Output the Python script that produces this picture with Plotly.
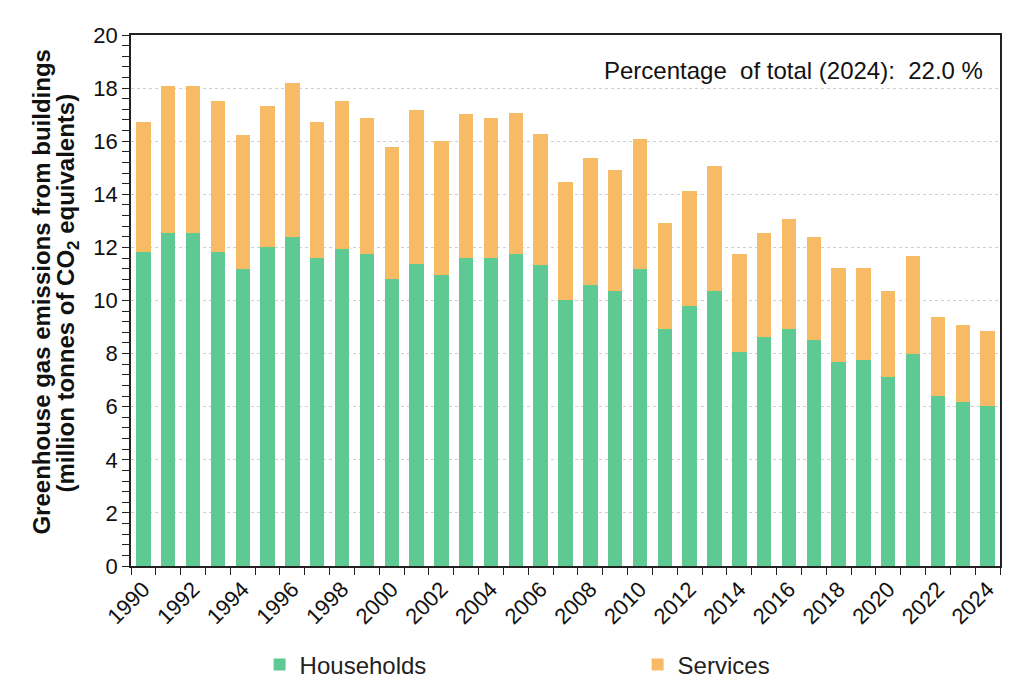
import plotly.graph_objects as go

years = list(range(1990, 2025))
households = [11.82, 12.53, 12.53, 11.82, 11.17, 12.01, 12.40, 11.61, 11.95, 11.76,
              10.82, 11.38, 10.96, 11.61, 11.61, 11.76, 11.32, 10.01, 10.58, 10.36,
              11.17, 8.91, 9.81, 10.35, 8.06, 8.64, 8.91, 8.50, 7.70, 7.77,
              7.12, 7.99, 6.39, 6.18, 6.04]
totals = [16.73, 18.09, 18.09, 17.52, 16.23, 17.31, 18.18, 16.73, 17.52, 16.87,
          15.80, 17.17, 15.99, 17.01, 16.88, 17.08, 16.29, 14.48, 15.36, 14.91,
          16.08, 12.91, 14.11, 15.07, 11.74, 12.55, 13.06, 12.40, 11.23, 11.23,
          10.36, 11.67, 9.36, 9.07, 8.86]
services = [round(t - h, 2) for t, h in zip(totals, households)]
tick_years = list(range(1990, 2025, 2))
tick_labels = [str(y) for y in tick_years]
title_line1 = "Greenhouse gas emissions from buildings"
title_line2 = "(million tonnes of CO<sub>2</sub> equivalents)"

FONT = "Liberation Sans, Arial, sans-serif"
GREEN = "#5fc994"
ORANGE = "#f8bb65"

fig = go.Figure()
fig.add_trace(go.Bar(x=years, y=households, name="Households",
                     marker=dict(color=GREEN, line=dict(width=0)), width=0.58))
fig.add_trace(go.Bar(x=years, y=services, name="Services",
                     marker=dict(color=ORANGE, line=dict(width=0)), width=0.58))

fig.update_layout(
    barmode="stack",
    width=1024, height=695,
    margin=dict(l=123, r=32, t=27, b=137, autoexpand=False),
    plot_bgcolor="white", paper_bgcolor="white",
    font=dict(family=FONT, size=22, color="#111111"),
    showlegend=True,
    legend=dict(orientation="h", traceorder="normal", x=0.148, xanchor="left",
                y=-0.144, yanchor="top",
                entrywidth=333, entrywidthmode="pixels",
                font=dict(size=24, color="#222222"), itemwidth=30),
    xaxis=dict(range=[1989.5, 2024.5], tickmode="array", tickvals=tick_years,
               ticktext=tick_labels, tickangle=-45, ticks="", showgrid=False,
               showline=True, linecolor="#222222", linewidth=1.5, mirror=True,
               tickfont=dict(size=22, color="#111111"),
               minor=dict(tickmode="linear", tick0=1989.5, dtick=1, ticks="outside",
                          ticklen=7, tickcolor="#222222", showgrid=False)),
    yaxis=dict(range=[0, 20], dtick=2, ticks="outside", ticklen=7, tickcolor="#222222",
               showline=True, linecolor="#222222", linewidth=1.5, mirror=True,
               showgrid=True, gridcolor="#cfcfcf", griddash="dot", gridwidth=1,
               zeroline=False,
               tickfont=dict(size=22, color="#111111"),
               minor=dict(dtick=0.4, ticks="outside", ticklen=7, tickcolor="#222222",
                          showgrid=False)),
)

fig.add_annotation(text=f"<b>{title_line1}</b>", xref="paper", yref="paper",
                   x=-0.1024, y=0.515, xanchor="center", yanchor="middle",
                   textangle=-90, showarrow=False,
                   font=dict(size=24, color="#111111"))
fig.add_annotation(text=f"<b>{title_line2}</b>", xref="paper", yref="paper",
                   x=-0.0725, y=0.515, xanchor="center", yanchor="middle",
                   textangle=-90, showarrow=False,
                   font=dict(size=24, color="#111111"))

fig.add_annotation(text="Percentage  of total (2024):  22.0 %", xref="paper", yref="paper",
                   x=0.983, y=0.934, xanchor="right", yanchor="middle", showarrow=False,
                   font=dict(size=24, color="#111111"))

fig.write_html("out.html")
